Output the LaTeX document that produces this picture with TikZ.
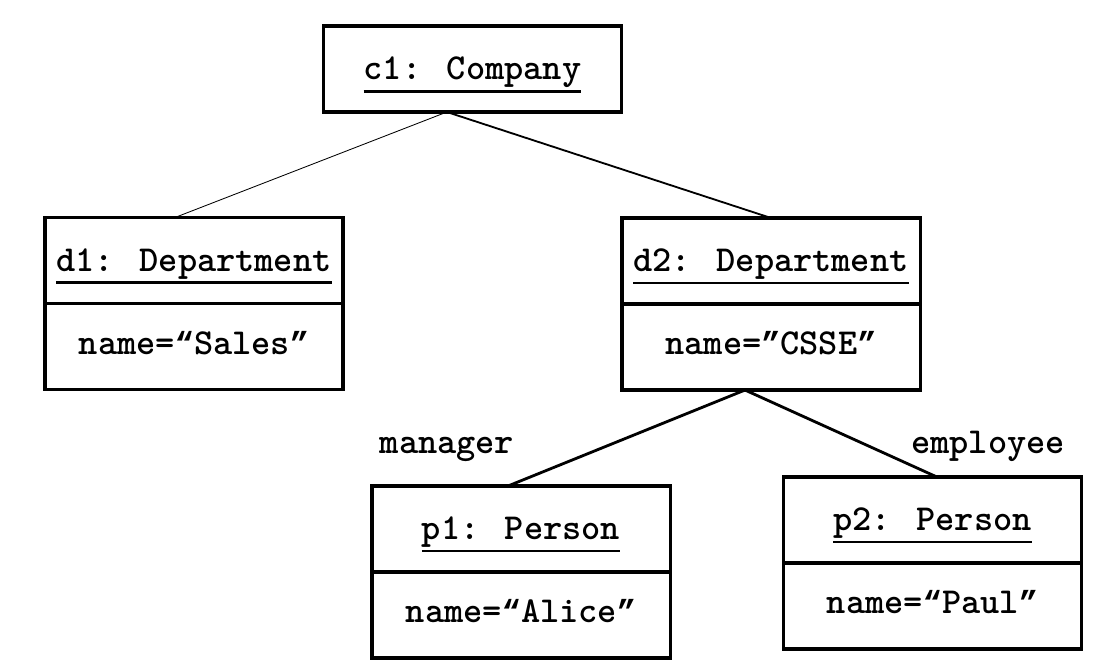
\documentclass[tikz,border=0pt]{standalone}
\usepackage{fontspec}
\newfontfamily\quotefont{Liberation Mono}
\usetikzlibrary{positioning}
\newcommand{\umlfont}{\ttfamily\bfseries\fontsize{26}{31}\selectfont}
\newcommand{\objul}[1]{\leavevmode\vtop{\hbox{#1}\kern1.6pt\hrule height 1.8pt}}
\newcommand{\oq}{{\quotefont\fontsize{22.7}{27}\selectfont “}}
\newcommand{\cq}{{\quotefont\fontsize{22.7}{27}\selectfont ”}}
\begin{document}
\begin{tikzpicture}[
    x=0.025cm, y=-0.025cm,
    objhead/.style={draw, line width=2.2pt, outer sep=0pt, minimum width=7.45cm,
      minimum height=2.15cm, inner sep=0pt, font=\umlfont,
      text height=0.77cm, text depth=0.23cm},
    objattr/.style={objhead, text height=0.69cm, text depth=0.31cm},
    rolelbl/.style={font=\umlfont, anchor=base, inner sep=0pt},
  ]
    %% --- 그림 영역 (1109 x 670) ---
    \useasboundingbox (0,0) rectangle (1109,670);

    %% --- 객체: 회사 ---
    \node[objhead] (c1) at (472.5, 69) {\objul{c1: Company}};

    %% --- 객체: 부서 ---
    \node[objhead] (d1) at (194, 260.5) {\objul{d1: Department}};
    \node[objattr, below=0pt of d1] (d1attr) {name=\oq Sales\cq};

    \node[objhead] (d2) at (771, 261) {\objul{d2: Department}};
    \node[objattr, below=0pt of d2] (d2attr) {name=\cq CSSE\cq};

    %% --- 객체: 사람 ---
    \node[objhead] (p1) at (521, 529) {\objul{p1: Person}};
    \node[objattr, below=0pt of p1] (p1attr) {name=\oq Alice\cq};

    \node[objhead] (p2) at (932.5, 520) {\objul{p2: Person}};
    \node[objattr, below=0pt of p2] (p2attr) {name=\oq Paul\cq};

    %% --- 링크 ---
    \draw[line width=0.6pt] ([xshift=-0.64cm]c1.south) -- ([xshift=-0.475cm]d1.north);
    \draw[line width=1.3pt] ([xshift=-0.64cm]c1.south) -- (d2.north);
    \draw[line width=2pt] ([xshift=-0.65cm]d2attr.south) -- ([xshift=-0.325cm]p1.north);
    \draw[line width=2pt] ([xshift=-0.65cm]d2attr.south) -- ([xshift=0.11cm]p2.north);

    %% --- 역할 이름 ---
    \node[rolelbl] (mgr) at (447, 453) {manager};
    \node[rolelbl] (emp) at (988, 453) {employee};

  \end{tikzpicture}
\end{document}
